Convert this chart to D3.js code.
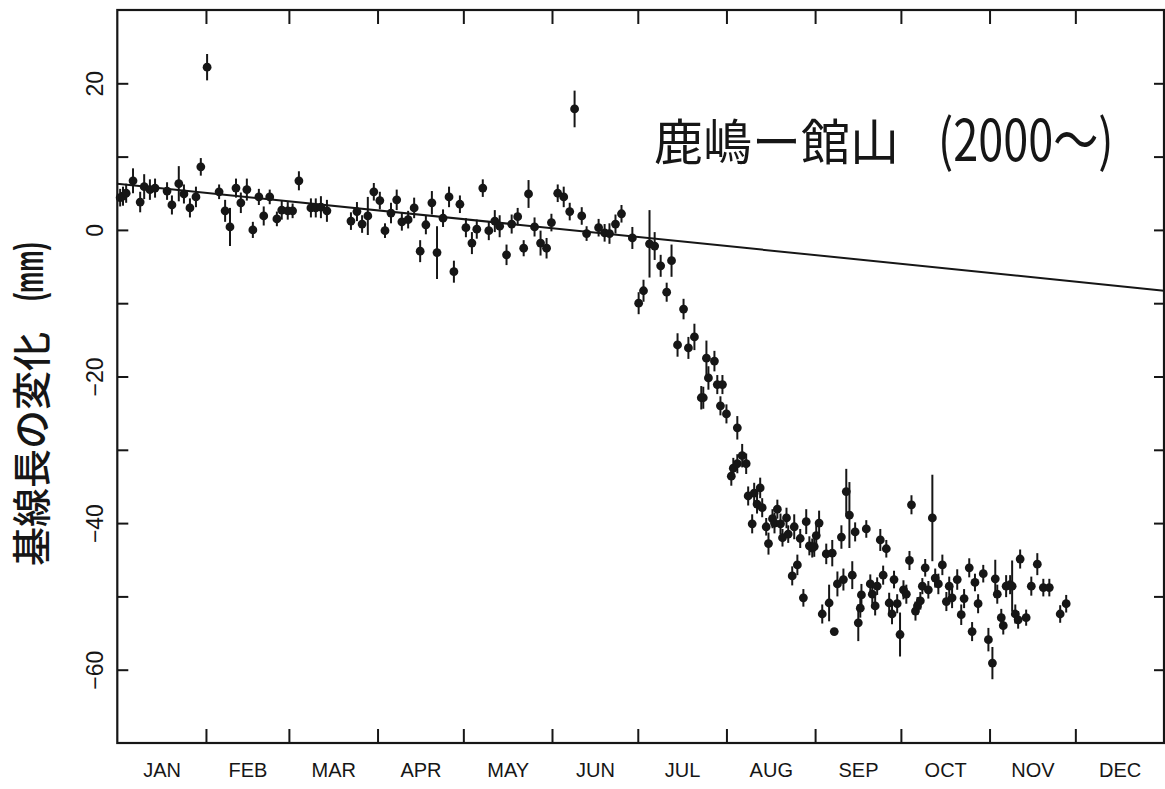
<!DOCTYPE html>
<html>
<head>
<meta charset="utf-8">
<script src="https://cdn.jsdelivr.net/npm/d3@7"></script>
<style>
  html, body { margin: 0; padding: 0; background: #fff; }
  svg { display: block; }
</style>
</head>
<body>
<svg id="chart" width="1165" height="789"></svg>
<script>
// Baseline length change, Kashima - Tateyama, daily solutions (year 2000)
const monthLabels = ["JAN","FEB","MAR","APR","MAY","JUN","JUL","AUG","SEP","OCT","NOV","DEC"];
const yTickLabels = [-60, -40, -20, 0, 20];
const yMinorTicks = [-60, -50, -40, -30, -20, -10, 0, 10, 20];

// day of year (0 = Jan 1)
const obsDay = [
  1.0, 2.0, 3.1, 5.5, 8.0, 9.4, 11.4, 13.2, 17.4, 19.1,
  21.5, 23.3, 25.4, 27.5, 29.2, 31.4, 35.6, 37.7, 39.4, 41.5,
  43.2, 45.3, 47.4, 49.5, 51.2, 53.3, 55.8, 57.5, 59.6, 61.3,
  63.5, 67.7, 69.4, 71.2, 73.3, 81.7, 83.8, 85.6, 87.6, 89.7,
  91.8, 93.6, 95.7, 97.7, 99.5, 101.7, 103.8, 105.9, 107.9, 110.0,
  111.8, 113.9, 116.0, 117.7, 119.8, 121.9, 124.0, 125.7, 127.8, 129.9,
  132.0, 133.7, 136.1, 137.9, 140.0, 142.1, 143.8, 145.9, 148.0, 150.1,
  151.8, 154.0, 156.1, 158.2, 159.9, 162.4, 164.1, 168.3, 170.4, 172.1,
  174.2, 176.3, 180.1, 182.3, 184.0, 186.1, 187.9, 190.0, 192.1, 193.8,
  195.9, 198.0, 199.7, 201.8, 204.2, 204.9, 206.0, 206.7, 208.8, 209.8,
  210.9, 211.6, 213.0, 216.8, 214.7, 215.4, 216.8, 218.5, 219.9, 220.6,
  222.0, 222.7, 223.7, 224.8, 225.5, 226.9, 227.7, 229.1, 229.8, 230.8,
  231.9, 232.6, 234.0, 234.6, 236.0, 236.7, 237.8, 238.8, 239.9, 240.9,
  242.0, 243.0, 243.7, 244.4, 245.4, 246.5, 247.9, 248.9, 250.0, 250.7,
  251.8, 253.2, 253.9, 254.9, 256.0, 257.0, 258.0, 259.1, 259.8, 260.2,
  261.9, 263.3, 264.0, 265.0, 265.7, 266.8, 267.8, 268.9, 269.9, 270.9,
  271.6, 272.7, 273.7, 274.9, 275.9, 277.0, 277.7, 279.1, 279.8, 280.8,
  281.5, 282.5, 283.6, 285.0, 286.0, 287.1, 288.5, 289.9, 290.9, 291.9,
  293.7, 295.1, 296.1, 297.9, 298.9, 299.9, 301.0, 302.8, 304.6, 306.0,
  307.0, 307.7, 309.1, 309.8, 310.8, 312.2, 312.9, 314.0, 315.0, 315.7,
  317.8, 319.6, 321.7, 323.8, 325.9, 329.7, 331.8
];

// baseline length change (mm)
const obsMm = [
  4.4, 4.6, 5.0, 6.7, 3.8, 5.9, 5.5, 5.7, 5.3, 3.4,
  6.3, 4.9, 3.0, 4.5, 8.6, 22.2, 5.2, 2.6, 0.4, 5.7,
  3.7, 5.5, 0.0, 4.5, 1.9, 4.5, 1.5, 2.7, 2.6, 2.6,
  6.7, 3.0, 3.0, 3.1, 2.6, 1.2, 2.5, 0.8, 1.9, 5.2,
  4.0, -0.1, 2.3, 4.1, 1.1, 1.4, 3.0, -2.9, 0.7, 3.7,
  -3.1, 1.6, 4.5, -5.7, 3.5, 0.3, -1.8, 0.1, 5.7, -0.1,
  1.2, 0.5, -3.4, 0.8, 1.8, -2.5, 4.9, 0.4, -1.8, -2.5,
  1.0, 5.0, 4.5, 2.5, 16.5, 1.9, -0.5, 0.3, -0.4, -0.5,
  0.8, 2.2, -1.1, -10.0, -8.3, -1.9, -2.2, -4.9, -8.5, -4.2,
  -15.7, -10.8, -16.1, -14.6, -22.9, -22.9, -17.5, -20.2, -17.9, -21.1,
  -24.0, -21.1, -25.1, -27.0, -33.6, -32.5, -31.9, -30.8, -31.9, -36.3,
  -40.1, -35.9, -37.4, -35.2, -37.9, -40.5, -42.8, -39.4, -40.0, -38.1,
  -40.1, -42.0, -39.3, -41.5, -47.2, -40.5, -45.7, -42.1, -50.2, -39.8,
  -43.1, -43.4, -43.2, -41.7, -40.0, -52.4, -44.2, -50.9, -44.1, -54.8,
  -48.3, -41.9, -47.7, -35.7, -38.9, -47.1, -41.2, -53.6, -51.6, -49.8,
  -40.8, -48.3, -49.7, -51.3, -48.6, -42.3, -47.1, -43.5, -50.9, -52.4,
  -47.7, -51.0, -55.2, -49.1, -49.7, -45.1, -37.5, -52.0, -51.3, -50.6,
  -48.6, -46.1, -49.1, -39.3, -47.5, -48.3, -45.7, -50.7, -48.6, -50.2,
  -47.7, -52.5, -50.3, -46.1, -54.8, -48.1, -51.0, -46.9, -55.9, -59.1,
  -47.6, -49.7, -52.9, -54.0, -48.6, -48.4, -48.6, -52.4, -53.2, -44.9,
  -52.9, -48.6, -45.6, -48.8, -48.8, -52.4, -51.0
];

// one-sigma error (mm)
const obsErr = [
  1.2, 1.3, 1.3, 1.7, 1.4, 1.7, 1.4, 1.3, 1.2, 1.3,
  2.4, 1.3, 1.3, 1.4, 1.2, 1.8, 1.0, 1.5, 2.6, 1.3,
  1.4, 1.5, 1.1, 1.1, 1.3, 1.0, 1.0, 1.3, 1.2, 1.0,
  1.3, 1.3, 1.3, 1.5, 1.5, 1.2, 1.3, 1.2, 2.6, 1.2,
  1.2, 1.0, 1.4, 1.4, 1.2, 1.2, 1.4, 1.5, 1.3, 1.6,
  3.6, 1.2, 1.4, 1.5, 1.2, 1.3, 1.5, 1.3, 1.2, 1.3,
  1.5, 1.5, 1.4, 1.3, 1.2, 1.1, 1.9, 1.3, 1.7, 1.4,
  1.2, 1.2, 1.4, 1.2, 2.5, 1.2, 1.0, 1.2, 1.2, 1.4,
  1.3, 1.2, 1.5, 1.5, 1.5, 4.6, 1.9, 1.5, 1.3, 2.2,
  1.6, 1.4, 1.5, 1.8, 1.6, 1.5, 2.4, 1.6, 1.4, 1.3,
  1.3, 1.3, 1.3, 1.6, 1.3, 1.4, 1.3, 1.6, 1.4, 1.3,
  1.3, 1.4, 1.3, 1.4, 1.3, 1.2, 1.5, 1.3, 1.4, 1.3,
  1.4, 1.2, 1.4, 1.2, 1.3, 1.7, 1.4, 1.3, 1.2, 1.7,
  1.3, 1.3, 1.4, 1.5, 1.7, 1.3, 1.4, 2.5, 1.8, 0,
  1.7, 1.6, 1.5, 3.1, 4.5, 1.9, 1.3, 2.5, 1.3, 1.5,
  1.2, 1.3, 1.3, 1.3, 1.2, 1.5, 1.3, 1.2, 1.4, 1.4,
  1.2, 1.3, 3.0, 1.3, 1.3, 1.3, 1.3, 1.3, 1.2, 1.2,
  1.1, 1.2, 1.2, 5.9, 1.3, 1.4, 1.4, 1.3, 1.3, 1.4,
  1.4, 1.4, 1.3, 1.3, 1.3, 1.2, 1.3, 1.2, 1.6, 2.2,
  2.6, 1.3, 1.2, 1.2, 1.5, 1.3, 3.5, 1.3, 1.2, 1.3,
  1.1, 1.3, 1.5, 1.2, 1.2, 1.2, 1.2
];

// linear trend before the event
const trendDay = [0, 366];
const trendMm = [6.3, -8.3];

const titleMain = "鹿嶋ー館山";
const titleYear = "(2000～)";
const yTitleMain = "基線長の変化";
const yTitleUnit = "(mm)";

// ---- layout ----
const ink = "#161616";
const plot = { left: 117.3, right: 1164, top: 10, bottom: 743 };
const yearStart = new Date(Date.UTC(2000, 0, 1));
const yearEnd = new Date(Date.UTC(2001, 0, 1));
const dayToDate = d => new Date(yearStart.getTime() + d * 864e5);

const x = d3.scaleUtc().domain([yearStart, yearEnd]).range([plot.left, plot.right]);
const y = d3.scaleLinear().domain([-70, 30]).range([plot.bottom, plot.top]);

const svg = d3.select("#chart");
const latin = "'Liberation Sans', Arial, Helvetica, sans-serif";
const cjk = "'Noto Sans CJK JP', 'Noto Sans CJK SC', sans-serif";

const monthStarts = d3.range(1, 12).map(m => new Date(Date.UTC(2000, m, 1)));
const monthMids = d3.range(0, 12).map(m => {
  const a = new Date(Date.UTC(2000, m, 1)), b = new Date(Date.UTC(2000, m + 1, 1));
  return new Date((a.getTime() + b.getTime()) / 2);
});

function styleTicks(g) {
  g.select(".domain").remove();
  g.selectAll(".tick line").attr("stroke", ink).attr("stroke-width", 2);
}

// top / bottom month ticks (inward)
svg.append("g").attr("transform", `translate(0,${plot.top})`)
  .call(d3.axisTop(x).tickValues(monthStarts).tickSizeInner(-14).tickSizeOuter(0).tickFormat(""))
  .call(styleTicks);
svg.append("g").attr("transform", `translate(0,${plot.bottom})`)
  .call(d3.axisBottom(x).tickValues(monthStarts).tickSizeInner(-14).tickSizeOuter(0).tickFormat(""))
  .call(styleTicks);

// left / right value ticks (inward)
svg.append("g").attr("transform", `translate(${plot.left},0)`)
  .call(d3.axisLeft(y).tickValues(yMinorTicks).tickSizeInner(-11).tickSizeOuter(0).tickFormat(""))
  .call(styleTicks);
svg.append("g").attr("transform", `translate(${plot.right},0)`)
  .call(d3.axisRight(y).tickValues(yMinorTicks).tickSizeInner(-10).tickSizeOuter(0).tickFormat(""))
  .call(styleTicks);

// month names centred in each month
svg.append("g").attr("transform", `translate(0,${plot.bottom})`)
  .call(d3.axisBottom(x).tickValues(monthMids).tickSize(0).tickPadding(20)
    .tickFormat((d, i) => monthLabels[i]))
  .call(g => g.select(".domain").remove())
  .call(g => g.selectAll("text")
    .style("font-size", "20px").style("font-family", latin).attr("fill", ink));

// rotated value labels
svg.append("g").attr("transform", `translate(${plot.left},0)`)
  .call(d3.axisLeft(y).tickValues(yTickLabels).tickSize(0).tickFormat(d3.format("d")))
  .call(g => g.select(".domain").remove())
  .call(g => g.selectAll("text")
    .attr("x", null).attr("dy", null)
    .attr("transform", "translate(-22.5,0) rotate(-90)")
    .attr("text-anchor", "middle")
    .attr("dominant-baseline", "central")
    .style("font-size", "23px").style("font-family", latin)
    .attr("fill", ink));

// frame
svg.append("rect")
  .attr("x", plot.left).attr("y", plot.top)
  .attr("width", plot.right - plot.left).attr("height", plot.bottom - plot.top)
  .attr("fill", "none").attr("stroke", ink).attr("stroke-width", 2.2);

// trend line
const plotArea = svg.append("g");
plotArea.append("path")
  .datum(trendDay.map((d, i) => ({ d, v: trendMm[i] })))
  .attr("fill", "none").attr("stroke", ink).attr("stroke-width", 2)
  .attr("d", d3.line().x(p => x(dayToDate(p.d))).y(p => y(p.v)));

// observations with error bars
const obs = obsDay.map((d, i) => ({ d, v: obsMm[i], e: obsErr[i] }));
plotArea.append("g").selectAll("line").data(obs.filter(o => o.e > 0)).join("line")
  .attr("x1", o => x(dayToDate(o.d))).attr("x2", o => x(dayToDate(o.d)))
  .attr("y1", o => y(o.v + o.e)).attr("y2", o => y(o.v - o.e))
  .attr("stroke", ink).attr("stroke-width", 2);
plotArea.append("g").selectAll("circle").data(obs).join("circle")
  .attr("cx", o => x(dayToDate(o.d))).attr("cy", o => y(o.v))
  .attr("r", 4.4).attr("fill", ink);

// title in the plot
svg.append("text")
  .attr("x", 654).attr("y", 138)
  .attr("dominant-baseline", "central")
  .style("font-family", cjk).style("font-size", "49px").attr("fill", ink)
  .text(titleMain);
svg.append("text")
  .attr("transform", "translate(938,136) scale(0.79,1)")
  .attr("dominant-baseline", "central")
  .style("font-family", cjk).style("font-size", "57px").attr("fill", ink)
  .text(titleYear);

// y axis title: kanji part, then the condensed unit
const yTitle = svg.append("g").attr("transform", "translate(29,0)");
yTitle.append("text")
  .attr("transform", "translate(0,566) rotate(-90)")
  .attr("dominant-baseline", "central")
  .style("font-family", cjk).style("font-size", "39px").style("font-weight", "500")
  .attr("fill", ink)
  .text(yTitleMain);
yTitle.append("text")
  .attr("transform", "translate(0,301) rotate(-90) scale(0.6,1)")
  .attr("dominant-baseline", "central")
  .style("font-family", latin).style("font-size", "40px").style("font-weight", "bold")
  .attr("fill", ink)
  .text(yTitleUnit);
</script>
</body>
</html>
